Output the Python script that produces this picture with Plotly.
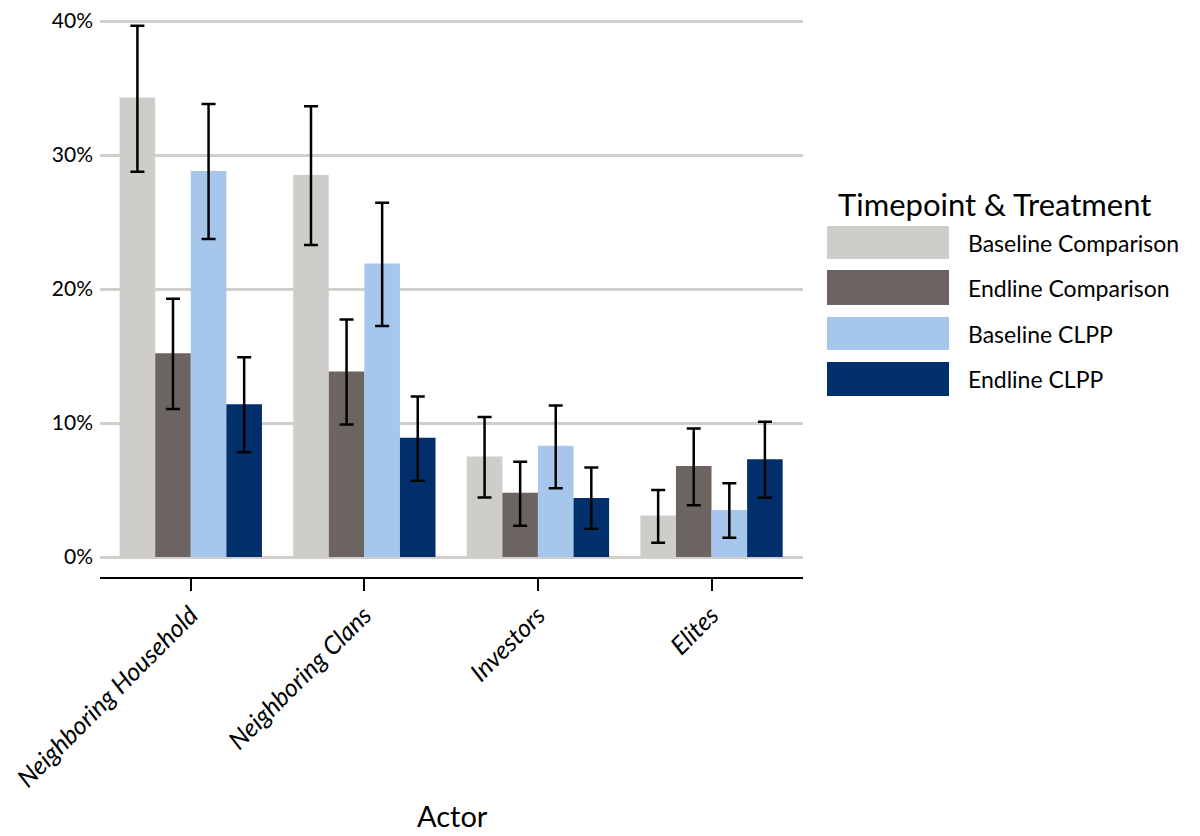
import plotly.graph_objects as go

actors = ["Neighboring Household", "Neighboring Clans", "Investors", "Elites"]
series = ["Baseline Comparison", "Endline Comparison", "Baseline CLPP", "Endline CLPP"]
colors = ["#CFCDC9", "#6C6461", "#A7C6EC", "#002F6C"]

values = {
    "Baseline Comparison": [0.343, 0.285, 0.075, 0.031],
    "Endline Comparison":  [0.152, 0.1385, 0.048, 0.068],
    "Baseline CLPP":       [0.288, 0.219, 0.083, 0.035],
    "Endline CLPP":        [0.114, 0.089, 0.044, 0.073],
}
upper = {
    "Baseline Comparison": [0.3965, 0.3364, 0.1045, 0.050],
    "Endline Comparison":  [0.1927, 0.1773, 0.071, 0.0959],
    "Baseline CLPP":       [0.338, 0.2644, 0.113, 0.0551],
    "Endline CLPP":        [0.149, 0.1197, 0.0668, 0.101],
}
lower = {
    "Baseline Comparison": [0.2875, 0.2329, 0.0444, 0.0107],
    "Endline Comparison":  [0.1105, 0.0988, 0.0233, 0.0387],
    "Baseline CLPP":       [0.2374, 0.1723, 0.0513, 0.0144],
    "Endline CLPP":        [0.0782, 0.0569, 0.0211, 0.0442],
}
yticks = [0, 0.1, 0.2, 0.3, 0.4]
ytick_labels = ["0%", "10%", "20%", "30%", "40%"]

FONT = "Lato, 'Open Sans', sans-serif"

fig = go.Figure()
for s, c in zip(series, colors):
    v = values[s]
    fig.add_trace(go.Bar(
        name=s, x=actors, y=v, marker=dict(color=c, line=dict(width=0)),
        error_y=dict(type="data", symmetric=False,
                     array=[u - a for u, a in zip(upper[s], v)],
                     arrayminus=[a - l for a, l in zip(v, lower[s])],
                     color="black", thickness=2.5, width=7),
        showlegend=False,
    ))

# page offset (body margin) of 8px
OFF = 8
W, H = 1200, 836
ml = 100 - OFF
mt = 17 - OFF
plot_right = 803 - OFF
plot_bottom = 577 - OFF
mr = W - plot_right
mb = H - plot_bottom
pw, ph = W - ml - mr, H - mt - mb

def px_x(px):
    return (px - OFF - ml) / pw

def px_y(py):
    return (H - mb - (py - OFF)) / ph

# y range so that 0 sits at page y=557 and 40% at page y=21
per_unit = (557 - 21) / 0.4
y_lo = -(577 - 557) / per_unit
y_hi = 0.4 + (21 - 17) / per_unit

key_x0, key_x1 = 827, 949
rows_y = [(226, 259), (270, 305), (317, 350), (362, 396)]

shapes = []
annotations = []
for (y0, y1), s, c in zip(rows_y, series, colors):
    shapes.append(dict(type="rect", xref="paper", yref="paper",
                       x0=px_x(key_x0), x1=px_x(key_x1),
                       y0=px_y(y1), y1=px_y(y0),
                       fillcolor=c, line=dict(width=0)))
    annotations.append(dict(text=s, xref="paper", yref="paper",
                            x=px_x(966), y=px_y((y0 + y1) / 2),
                            xanchor="left", yanchor="middle", showarrow=False,
                            font=dict(family=FONT, size=23, color="black")))
annotations.append(dict(text="Timepoint & Treatment", xref="paper", yref="paper",
                        x=px_x(836), y=px_y(204),
                        xanchor="left", yanchor="middle", showarrow=False,
                        font=dict(family=FONT, size=31, color="black")))
# x axis title
annotations.append(dict(text="Actor", xref="paper", yref="paper",
                        x=px_x(452), y=px_y(829),
                        xanchor="center", yanchor="bottom", yshift=-6, showarrow=False,
                        font=dict(family=FONT, size=29, color="black")))

fig.update_layout(
    width=W, height=H,
    margin=dict(l=ml, r=mr, t=mt, b=mb, autoexpand=False),
    paper_bgcolor="white", plot_bgcolor="white",
    barmode="group", bargap=0.18, bargroupgap=0,
    font=dict(family=FONT, color="black"),
    shapes=shapes, annotations=annotations,
    xaxis=dict(
        range=[-0.523, 3.527], showgrid=False, zeroline=False,
        showline=True, linecolor="black", linewidth=1.5,
        ticks="outside", ticklen=12, tickwidth=1.5, tickcolor="black",
        tickangle=-45,
        tickfont=dict(family=FONT, size=25, color="black", style="italic"),
        automargin=False,
    ),
    yaxis=dict(
        range=[y_lo, y_hi], tickvals=yticks, ticktext=ytick_labels,
        showgrid=True, gridcolor="#D0CFCB", gridwidth=2.5,
        zeroline=False, showline=False, ticks="",
        ticklabelstandoff=6, ticklabeloverflow="allow",
        tickfont=dict(family=FONT, size=21, color="black"),
        automargin=False,
    ),
)

fig.write_html("out.html")
